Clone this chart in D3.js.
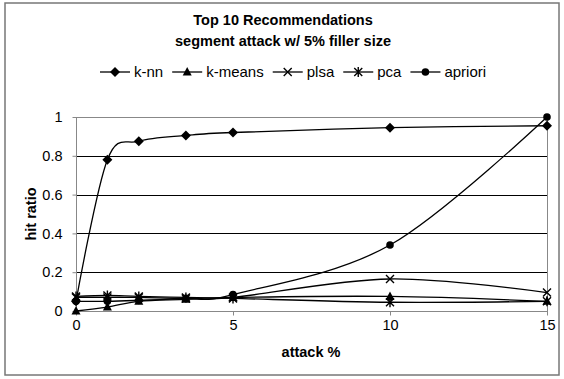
<!DOCTYPE html>
<html>
<head>
<meta charset="utf-8">
<script src="https://cdn.jsdelivr.net/npm/d3@7"></script>
<style>
  body { margin: 0; background: #fff; }
  svg { display: block; font-family: Arial, "Liberation Sans", sans-serif; }
</style>
</head>
<body>
<svg></svg>
<script>
let width = 564
let height = 379

// data
let attack = [0, 1, 2, 3.5, 5, 10, 15]
let knn = [0.05, 0.78, 0.875, 0.905, 0.92, 0.945, 0.955]
let kmeans = [0, 0.02, 0.05, 0.06, 0.07, 0.075, 0.05]
let plsa = [0.07, 0.07, 0.07, 0.065, 0.07, 0.165, 0.095]
let pca = [0.075, 0.08, 0.075, 0.07, 0.065, 0.045, 0.05]
let apriori = [0.05, 0.05, 0.055, 0.065, 0.085, 0.34, 1.0]

let seriesNames = ['k-nn', 'k-means', 'plsa', 'pca', 'apriori']
let seriesValues = [knn, kmeans, plsa, pca, apriori]
let seriesMarkers = ['diamond', 'triangle', 'cross', 'asterisk', 'circle']

let xTicks = [0, 5, 10, 15]
let yTicks = [0, 0.2, 0.4, 0.6, 0.8, 1]

let plot = { left: 76, right: 547, top: 117, bottom: 311 }

let svg = d3.select('svg')
    .attr('width', width)
    .attr('height', height)

// outer frame
svg.append('rect')
    .attr('x', 5).attr('y', 3)
    .attr('width', 554).attr('height', 372)
    .attr('fill', '#fff')
    .attr('stroke', '#777')
    .attr('stroke-width', 1.5)

let xScale = d3.scaleLinear().domain([0, 15]).range([plot.left, plot.right])
let yScale = d3.scaleLinear().domain([0, 1]).range([plot.bottom, plot.top])

// gridlines
svg.append('g')
    .selectAll('line')
    .data(yTicks.filter(d => d > 0 && d < 1))
    .enter()
    .append('line')
    .attr('x1', plot.left).attr('x2', plot.right)
    .attr('y1', d => Math.round(yScale(d)) + 0.5)
    .attr('y2', d => Math.round(yScale(d)) + 0.5)
    .attr('stroke', '#000')

// plot border
svg.append('rect')
    .attr('x', plot.left + 0.5).attr('y', plot.top + 0.5)
    .attr('width', plot.right - plot.left).attr('height', plot.bottom - plot.top)
    .attr('fill', 'none')
    .attr('stroke', '#888')

// axes
let xAxis = d3.axisBottom(xScale).tickValues(xTicks).tickSize(4).tickPadding(4).tickFormat(d3.format('d'))
let yAxis = d3.axisLeft(yScale).tickValues(yTicks).tickSize(4).tickPadding(10).tickFormat(d => d3.format('')(+d.toFixed(1)))

let gx = svg.append('g')
    .attr('transform', `translate(0, ${plot.bottom + 0.5})`)
    .call(xAxis)
let gy = svg.append('g')
    .attr('transform', `translate(${plot.left + 0.5}, 0)`)
    .call(yAxis)

for (let g of [gx, gy]) {
    g.select('.domain').remove()
    g.selectAll('line').attr('stroke', '#888')
    g.selectAll('text').attr('font-size', 14.5).attr('fill', '#000').attr('font-family', 'Arial, "Liberation Sans", sans-serif')
}

// series lines
let line = d3.line()
    .x((d, i) => xScale(attack[i]))
    .y(d => yScale(d))
    .curve(d3.curveCardinal.tension(0))

svg.append('g')
    .selectAll('path')
    .data(seriesValues)
    .enter()
    .append('path')
    .attr('d', d => line(d))
    .attr('fill', 'none')
    .attr('stroke', '#000')
    .attr('stroke-width', 1.3)

// marker drawing
let drawMarker = (g, type, x, y) => {
    if (type === 'diamond') {
        g.append('path').attr('d', `M${x},${y - 5}L${x + 5},${y}L${x},${y + 5}L${x - 5},${y}Z`).attr('fill', '#000')
    } else if (type === 'triangle') {
        g.append('path').attr('d', `M${x},${y - 5}L${x + 4.5},${y + 3.5}L${x - 4.5},${y + 3.5}Z`).attr('fill', '#000')
    } else if (type === 'cross') {
        g.append('path').attr('d', `M${x - 4},${y - 4}L${x + 4},${y + 4}M${x + 4},${y - 4}L${x - 4},${y + 4}`)
            .attr('stroke', '#000').attr('stroke-width', 1.4)
    } else if (type === 'asterisk') {
        g.append('path').attr('d', `M${x - 4},${y - 4}L${x + 4},${y + 4}M${x + 4},${y - 4}L${x - 4},${y + 4}M${x},${y - 5}L${x},${y + 5}`)
            .attr('stroke', '#000').attr('stroke-width', 1.4)
    } else {
        g.append('circle').attr('cx', x).attr('cy', y).attr('r', 3.8).attr('fill', '#000')
    }
}

let markers = svg.append('g')
seriesValues.forEach((vals, s) => {
    vals.forEach((v, i) => drawMarker(markers, seriesMarkers[s], xScale(attack[i]), yScale(v)))
})

// titles
svg.append('text')
    .attr('x', 283).attr('y', 25)
    .attr('text-anchor', 'middle')
    .attr('font-size', 14.5).attr('font-weight', 'bold')
    .text('Top 10 Recommendations')
svg.append('text')
    .attr('x', 283).attr('y', 46)
    .attr('text-anchor', 'middle')
    .attr('font-size', 14.5).attr('font-weight', 'bold')
    .text('segment attack w/ 5% filler size')

svg.append('text')
    .attr('x', 311).attr('y', 357)
    .attr('text-anchor', 'middle')
    .attr('font-size', 14.5).attr('font-weight', 'bold')
    .text('attack %')

svg.append('text')
    .attr('transform', 'translate(36, 214) rotate(-90)')
    .attr('text-anchor', 'middle')
    .attr('font-size', 14.5).attr('font-weight', 'bold')
    .text('hit ratio')

// legend
let legend = svg.append('g')
let lx = 100
let ly = 72
seriesNames.forEach((name, s) => {
    legend.append('line')
        .attr('x1', lx).attr('x2', lx + 30)
        .attr('y1', ly).attr('y2', ly)
        .attr('stroke', '#000').attr('stroke-width', 1.3)
    drawMarker(legend, seriesMarkers[s], lx + 15, ly)
    let t = legend.append('text')
        .attr('x', lx + 34).attr('y', ly + 5)
        .attr('font-size', 15)
        .text(name)
    lx += 34 + t.node().getComputedTextLength() + 9
})
</script>
</body>
</html>
